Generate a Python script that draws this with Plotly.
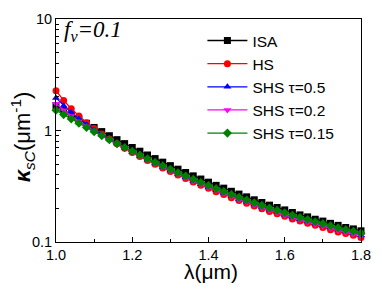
import plotly.graph_objects as go

wavelength = [round(1.0 + 0.02 * i, 2) for i in range(41)]

isa = [1.667, 1.520, 1.387, 1.268, 1.161, 1.065, 0.978, 0.898, 0.828, 0.763,
       0.704, 0.652, 0.603, 0.560, 0.520, 0.484, 0.450, 0.420, 0.392, 0.367,
       0.344, 0.322, 0.304, 0.285, 0.269, 0.254, 0.239, 0.226, 0.214, 0.204,
       0.194, 0.184, 0.175, 0.168, 0.160, 0.154, 0.147, 0.141, 0.135, 0.131, 0.126]
hs = [2.275, 1.860, 1.565, 1.346, 1.176, 1.041, 0.931, 0.839, 0.762, 0.694,
      0.636, 0.584, 0.538, 0.497, 0.461, 0.428, 0.398, 0.371, 0.345, 0.323,
      0.303, 0.283, 0.267, 0.250, 0.236, 0.223, 0.210, 0.199, 0.188, 0.179,
      0.170, 0.161, 0.154, 0.147, 0.141, 0.135, 0.129, 0.123, 0.119, 0.115, 0.110]
shs_05 = [1.959, 1.668, 1.447, 1.274, 1.133, 1.018, 0.920, 0.835, 0.763, 0.699,
          0.642, 0.592, 0.547, 0.507, 0.470, 0.437, 0.407, 0.380, 0.354, 0.332,
          0.311, 0.291, 0.275, 0.258, 0.243, 0.230, 0.217, 0.206, 0.195, 0.185,
          0.176, 0.168, 0.160, 0.153, 0.146, 0.140, 0.135, 0.129, 0.124, 0.120, 0.115]
shs_02 = [1.738, 1.523, 1.349, 1.206, 1.086, 0.985, 0.895, 0.817, 0.749, 0.688,
          0.634, 0.585, 0.541, 0.501, 0.466, 0.433, 0.403, 0.376, 0.351, 0.328,
          0.308, 0.289, 0.272, 0.256, 0.241, 0.228, 0.215, 0.203, 0.193, 0.183,
          0.174, 0.166, 0.158, 0.151, 0.144, 0.139, 0.133, 0.127, 0.122, 0.118, 0.114]
shs_015 = [1.521, 1.388, 1.268, 1.161, 1.064, 0.977, 0.898, 0.826, 0.762, 0.703,
           0.650, 0.602, 0.558, 0.518, 0.482, 0.449, 0.418, 0.391, 0.365, 0.342,
           0.321, 0.301, 0.284, 0.267, 0.252, 0.238, 0.225, 0.213, 0.202, 0.192,
           0.183, 0.174, 0.166, 0.159, 0.152, 0.146, 0.140, 0.134, 0.129, 0.125, 0.120]

series_names = ["ISA", "HS", "SHS \u03c4=0.5", "SHS \u03c4=0.2", "SHS \u03c4=0.15"]
series_values = [isa, hs, shs_05, shs_02, shs_015]
colors = ["#000000", "#ff0000", "#0000ff", "#ff00ff", "#008000"]
symbols = ["square", "circle", "triangle-up", "triangle-down", "diamond"]

x_ticks = [1.0, 1.2, 1.4, 1.6, 1.8]
x_tick_labels = ["1.0", "1.2", "1.4", "1.6", "1.8"]
x_minor_ticks = [1.1, 1.3, 1.5, 1.7]
y_ticks = [0.1, 1, 10]
y_tick_labels = ["0.1", "1", "10"]
y_minor_ticks = [0.2, 0.3, 0.4, 0.5, 0.6, 0.7, 0.8, 0.9, 2, 3, 4, 5, 6, 7, 8, 9]

fig = go.Figure()
for name, vals, c, s in zip(series_names, series_values, colors, symbols):
    fig.add_trace(go.Scatter(
        x=wavelength, y=vals, name=name, mode="lines+markers",
        line=dict(color=c, width=1.3),
        marker=dict(symbol=s, size=7, color=c, line=dict(width=0)),
        cliponaxis=False,
    ))

fig.update_layout(
    width=382, height=290,
    margin=dict(l=56, r=11, t=11, b=48),
    paper_bgcolor="white", plot_bgcolor="white",
    font=dict(family="Liberation Sans, Arial, sans-serif", color="black", size=14),
    showlegend=True,
    legend=dict(x=0.48, y=0.978, xanchor="left", yanchor="top",
                bgcolor="rgba(0,0,0,0)", font=dict(size=15.5),
                tracegroupgap=0, itemwidth=40),
    xaxis=dict(
        range=[1.0, 1.8], tickvals=x_ticks, ticktext=x_tick_labels,
        ticks="inside", ticklen=5, tickwidth=1, tickcolor="black",
        minor=dict(tickvals=x_minor_ticks, ticks="inside", ticklen=3, tickcolor="black"),
        showline=True, linecolor="black", linewidth=1, mirror=True,
        showgrid=False, zeroline=False, tickfont=dict(size=14.5),
        ticklabeloverflow="allow",
    ),
    yaxis=dict(
        type="log", range=[-1, 1], tickvals=y_ticks, ticktext=y_tick_labels,
        ticks="inside", ticklen=5, tickwidth=1, tickcolor="black",
        minor=dict(tickvals=y_minor_ticks, ticks="inside", ticklen=3,
                   tickcolor="black", showgrid=False),
        showline=True, linecolor="black", linewidth=1, mirror=True,
        showgrid=False, zeroline=False, tickfont=dict(size=14.5),
        ticklabeloverflow="allow",
    ),
)

# axis titles
fig.add_annotation(
    xref="paper", yref="paper", x=0.508, y=-0.132, xanchor="center", yanchor="middle",
    text="\u03bb(\u03bcm)", showarrow=False, font=dict(size=21),
)
fig.add_annotation(
    xref="paper", yref="paper", x=-0.111, y=0.47, xanchor="center", yanchor="middle",
    textangle=-90,
    text="<b><i>\u03ba</i></b><sub><i>sC</i></sub>(\u03bcm<sup>-1</sup>)",
    showarrow=False, font=dict(size=22),
)
fig.add_annotation(
    xref="paper", yref="paper", x=0.02, y=1.02, xanchor="left", yanchor="top",
    text="<i>f</i><sub><i>v</i></sub><i>=0.1</i>", showarrow=False,
    font=dict(family="Liberation Serif, Times New Roman, serif", size=23),
)

fig.write_html("out.html", config={"displayModeBar": False},
               post_script="document.body.style.margin='0';")
